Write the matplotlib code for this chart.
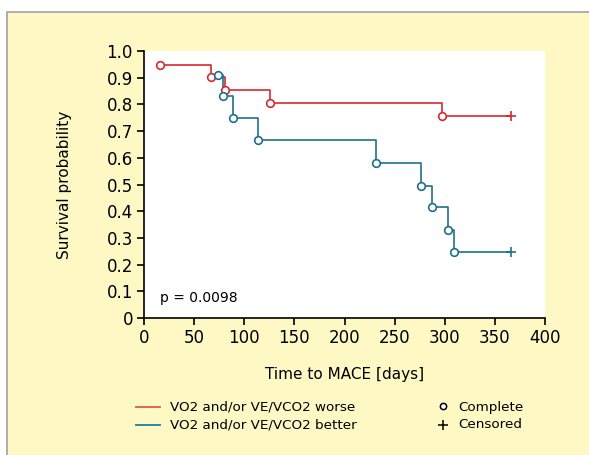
import matplotlib
matplotlib.use("Agg")
import matplotlib.pyplot as plt
from matplotlib.patches import Rectangle
from matplotlib.lines import Line2D

plt.rcParams['font.family'] = ['DejaVu Sans']

# Data
worse_times = [16, 67, 81, 126, 297]
worse_surv = [0.948, 0.901, 0.855, 0.806, 0.757]
worse_censor_time = 366

better_times = [74, 79, 89, 114, 231, 276, 287, 303, 309]
better_surv = [0.911, 0.830, 0.750, 0.665, 0.580, 0.495, 0.417, 0.330, 0.248]
better_censor_time = 366

x_ticks = [0, 50, 100, 150, 200, 250, 300, 350, 400]
y_ticks = [0, 0.1, 0.2, 0.3, 0.4, 0.5, 0.6, 0.7, 0.8, 0.9, 1.0]
y_ticklabels = ['0', '0.1', '0.2', '0.3', '0.4', '0.5', '0.6', '0.7', '0.8', '0.9', '1.0']

red = '#d42a2e'
blue = '#1f6f8b'
bg = '#fef8c5'

fig = plt.figure(figsize=(5.89, 4.55), dpi=100)
fig.patch.set_facecolor('white')
fig.patches.append(Rectangle((6.5/589, -0.05), 1.1, 1.05 - 12/455, transform=fig.transFigure,
                             facecolor=bg, edgecolor='#a8a8a8', linewidth=1.3, zorder=-10))

ax = fig.add_axes([144/589, 1 - 318/455, (545 - 144)/589, (318 - 51)/455])
ax.set_facecolor('white')

def draw(times, surv, ctime, color):
    xs = list(times) + [ctime]
    ys = list(surv) + [surv[-1]]
    ax.step(xs, ys, where='post', color=color, lw=1.2, zorder=2)
    ax.plot(times, surv, 'o', ms=5.5, mfc='white', mec=color, mew=1.2, zorder=3)
    ax.plot([ctime], [surv[-1]], '+', ms=7, color=color, mew=1.2, zorder=3)

draw(worse_times, worse_surv, worse_censor_time, red)
draw(better_times, better_surv, better_censor_time, blue)

ax.set_xlim(0, 400)
ax.set_ylim(0, 1.0)
ax.set_xticks(x_ticks)
ax.set_yticks(y_ticks)
ax.set_yticklabels(y_ticklabels)
for s in ['top', 'right']:
    ax.spines[s].set_visible(False)
for s in ['left', 'bottom']:
    ax.spines[s].set_linewidth(1.2)
ax.tick_params(direction='out', length=5, width=1.2, labelsize=12, pad=3)
ax.set_xlabel('Time to MACE [days]', fontsize=11, labelpad=14)
ax.set_ylabel('Survival probability', fontsize=11, labelpad=25)
ax.text(16, 0.075, 'p = 0.0098', fontsize=10, va='center', ha='left')

# Legend drawn manually in figure coordinates
def fy(py):
    return 1 - py / 455
def fx(px):
    return px / 589

fig.add_artist(Line2D([fx(136), fx(160)], [fy(407), fy(407)], color='#e05a45', lw=1.3))
fig.add_artist(Line2D([fx(136), fx(160)], [fy(425), fy(425)], color='#1f7ea0', lw=1.3))
fig.text(fx(170), fy(407), 'VO2 and/or VE/VCO2 worse', fontsize=9.7, va='center', ha='left')
fig.text(fx(170), fy(425), 'VO2 and/or VE/VCO2 better', fontsize=9.7, va='center', ha='left')
fig.add_artist(Line2D([fx(443)], [fy(406)], marker='o', ms=4.5, mfc='white', mec='black', mew=1.1, ls='none'))
fig.add_artist(Line2D([fx(443)], [fy(425)], marker='+', ms=7, color='black', mew=1.1, ls='none'))
fig.text(fx(458), fy(407), 'Complete', fontsize=9.7, va='center', ha='left')
fig.text(fx(458), fy(425), 'Censored', fontsize=9.7, va='center', ha='left')

fig.savefig('out.png', dpi=100)
